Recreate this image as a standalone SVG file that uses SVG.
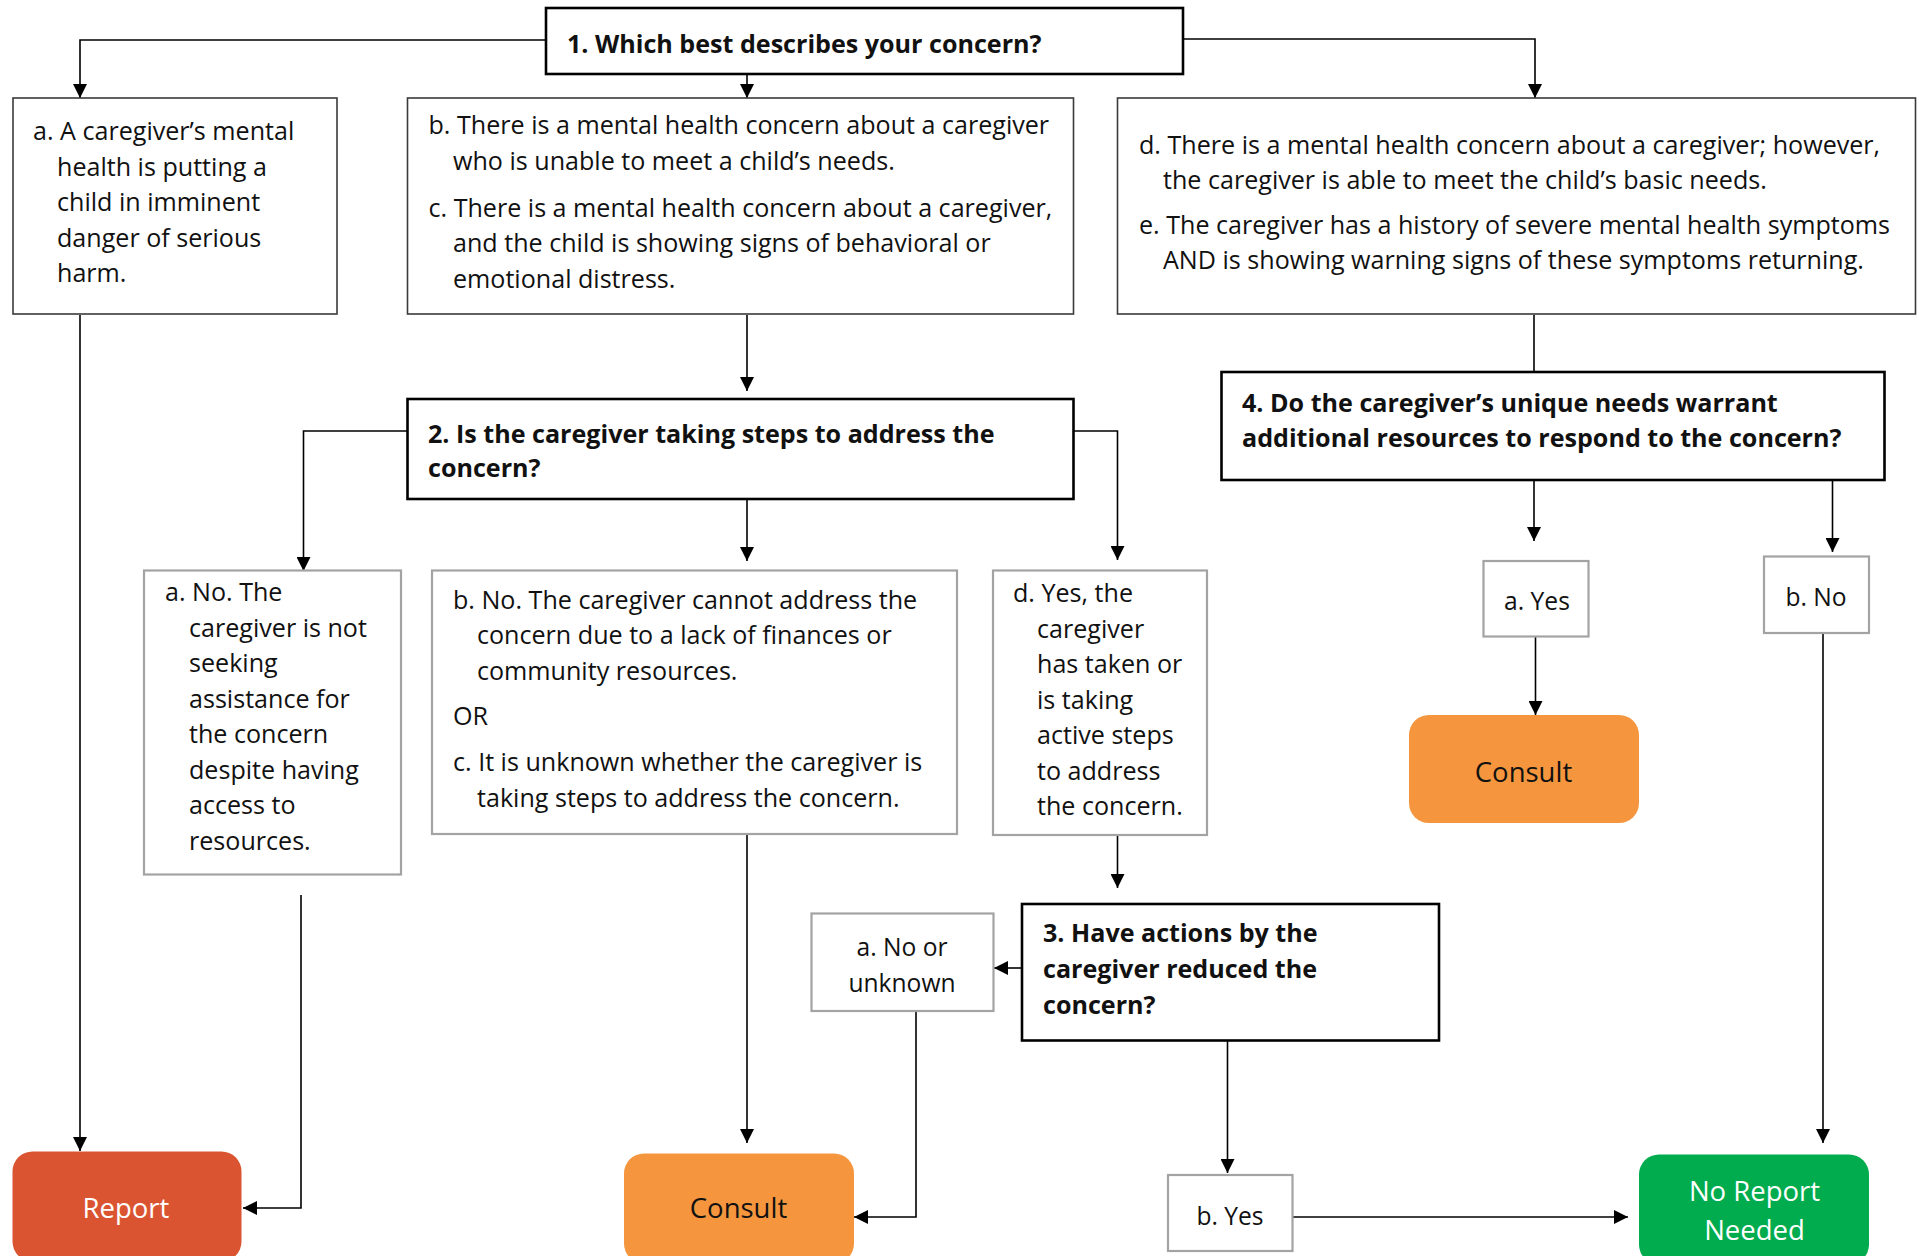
<svg xmlns="http://www.w3.org/2000/svg" width="1919" height="1256" viewBox="0 0 1919 1256">
  <defs>
    <marker id="arrow" markerUnits="userSpaceOnUse" markerWidth="14" markerHeight="14" viewBox="0 0 14 14" refX="14" refY="7" orient="auto">
      <path d="M0,0 L14,7 L0,14 Z" fill="#000"/>
    </marker>
    <style>
      text { font-family: "Open Sans", "Liberation Sans", sans-serif; fill: #111; }
      .t { font-size: 25.1px; }
      .b { font-size: 25.1px; font-weight: 700; }
      .s { font-size: 24.6px; }
      .c { text-anchor: middle; }
      .lbl { font-size: 27.5px; text-anchor: middle; }
      .white { fill: #fff; }
      .opt { fill: #fff; stroke: #3a3a3a; stroke-width: 1.6; }
      .q { fill: #fff; stroke: #000; stroke-width: 2.6; }
      .ans { fill: #fff; stroke: #a3a3a3; stroke-width: 2.2; }
      .end-report { fill: #DB5431; }
      .end-consult { fill: #F5963E; }
      .end-none { fill: #00AC4E; }
      .edge { fill: none; stroke: #000; stroke-width: 1.6; }
      .arr { marker-end: url(#arrow); }
    </style>
  </defs>

  <!-- connectors -->
  <g id="connectors">
    <path class="edge arr" d="M546,40 H80 V98"/>
    <path class="edge arr" d="M747,75 V98"/>
    <path class="edge arr" d="M1182,39 H1535 V98"/>
    <path class="edge arr" d="M80,315 V1151"/>
    <path class="edge arr" d="M747,315 V391"/>
    <path class="edge" d="M1534,315 V372"/>
    <path class="edge arr" d="M407,431 H303.5 V571"/>
    <path class="edge arr" d="M747,500 V561"/>
    <path class="edge arr" d="M1073,431 H1117.5 V560"/>
    <path class="edge arr" d="M301,895 V1208 H243"/>
    <path class="edge arr" d="M747,834 V1143"/>
    <path class="edge arr" d="M1117.5,835 V888"/>
    <path class="edge arr" d="M1022,968 H994"/>
    <path class="edge arr" d="M916,1011 V1217 H854"/>
    <path class="edge arr" d="M1227.5,1041 V1173"/>
    <path class="edge arr" d="M1292.5,1217 H1628"/>
    <path class="edge arr" d="M1534,480 V541"/>
    <path class="edge arr" d="M1832.5,480 V552"/>
    <path class="edge arr" d="M1535.5,637 V715"/>
    <path class="edge arr" d="M1823,633 V1143"/>
  </g>

  <!-- question 1 -->
  <g id="q1">
    <rect class="q" x="546" y="8" width="637" height="66"/>
    <text class="b" x="567" y="53">1. Which best describes your concern?</text>
  </g>

  <!-- first-level options -->
  <g id="opt-a">
    <rect class="opt" x="13" y="98" width="324" height="216"/>
    <text class="t" x="33" y="140">a. A caregiver’s mental</text>
    <text class="t" x="57" y="175.5">health is putting a</text>
    <text class="t" x="57" y="211">child in imminent</text>
    <text class="t" x="57" y="246.5">danger of serious</text>
    <text class="t" x="57" y="282">harm.</text>
  </g>

  <g id="opt-bc">
    <rect class="opt" x="407.5" y="98" width="666" height="216"/>
    <text class="t" x="428.5" y="134">b. There is a mental health concern about a caregiver</text>
    <text class="t" x="453" y="170">who is unable to meet a child’s needs.</text>
    <text class="t" x="428.5" y="216.5">c. There is a mental health concern about a caregiver,</text>
    <text class="t" x="453" y="252">and the child is showing signs of behavioral or</text>
    <text class="t" x="453" y="288">emotional distress.</text>
  </g>

  <g id="opt-de">
    <rect class="opt" x="1117.5" y="98" width="798" height="216"/>
    <text class="t" x="1139" y="154">d. There is a mental health concern about a caregiver; however,</text>
    <text class="t" x="1163" y="189">the caregiver is able to meet the child’s basic needs.</text>
    <text class="t" x="1139" y="234">e. The caregiver has a history of severe mental health symptoms</text>
    <text class="t" x="1163" y="269">AND is showing warning signs of these symptoms returning.</text>
  </g>

  <!-- question 2 -->
  <g id="q2">
    <rect class="q" x="407.5" y="399" width="666" height="100"/>
    <text class="b" x="428" y="443">2. Is the caregiver taking steps to address the</text>
    <text class="b" x="428" y="477">concern?</text>
  </g>

  <g id="ans2-a">
    <rect class="ans" x="144" y="570.5" width="257" height="304"/>
    <text class="t" x="165" y="601">a. No. The</text>
    <text class="t" x="189" y="636.5">caregiver is not</text>
    <text class="t" x="189" y="672">seeking</text>
    <text class="t" x="189" y="707.5">assistance for</text>
    <text class="t" x="189" y="743">the concern</text>
    <text class="t" x="189" y="778.5">despite having</text>
    <text class="t" x="189" y="814">access to</text>
    <text class="t" x="189" y="849.5">resources.</text>
  </g>

  <g id="ans2-bc">
    <rect class="ans" x="432" y="570.5" width="525" height="263.5"/>
    <text class="t" x="453" y="609">b. No. The caregiver cannot address the</text>
    <text class="t" x="477" y="644">concern due to a lack of finances or</text>
    <text class="t" x="477" y="679.5">community resources.</text>
    <text class="t" x="453" y="724.5">OR</text>
    <text class="t" x="453" y="771">c. It is unknown whether the caregiver is</text>
    <text class="t" x="477" y="806.5">taking steps to address the concern.</text>
  </g>

  <g id="ans2-d">
    <rect class="ans" x="993" y="570.5" width="214" height="264.5"/>
    <text class="t" x="1013" y="602">d. Yes, the</text>
    <text class="t" x="1037" y="637.5">caregiver</text>
    <text class="t" x="1037" y="673">has taken or</text>
    <text class="t" x="1037" y="708.5">is taking</text>
    <text class="t" x="1037" y="744">active steps</text>
    <text class="t" x="1037" y="779.5">to address</text>
    <text class="t" x="1037" y="815">the concern.</text>
  </g>

  <!-- question 3 -->
  <g id="q3">
    <rect class="q" x="1022" y="904" width="417" height="136.5"/>
    <text class="b" x="1043" y="942">3. Have actions by the</text>
    <text class="b" x="1043" y="978">caregiver reduced the</text>
    <text class="b" x="1043" y="1013.5">concern?</text>
  </g>

  <g id="ans3-a">
    <rect class="ans" x="811.5" y="913.5" width="182" height="97.5"/>
    <text class="s c" x="902" y="956">a. No or</text>
    <text class="s c" x="902" y="992">unknown</text>
  </g>

  <g id="ans3-b">
    <rect class="ans" x="1168" y="1175" width="124.5" height="76"/>
    <text class="s c" x="1230" y="1225">b. Yes</text>
  </g>

  <!-- question 4 -->
  <g id="q4">
    <rect class="q" x="1221.5" y="372" width="663" height="108"/>
    <text class="b" x="1242" y="412">4. Do the caregiver’s unique needs warrant</text>
    <text class="b" x="1242" y="447">additional resources to respond to the concern?</text>
  </g>

  <g id="ans4-a">
    <rect class="ans" x="1483.5" y="561" width="105" height="75.5"/>
    <text class="s c" x="1537" y="610">a. Yes</text>
  </g>

  <g id="ans4-b">
    <rect class="ans" x="1764" y="556.5" width="105" height="76.5"/>
    <text class="s c" x="1816" y="606">b. No</text>
  </g>

  <!-- outcomes -->
  <g id="out-report">
    <rect class="end-report" x="12.5" y="1151.5" width="229" height="110" rx="20"/>
    <text class="lbl white" x="126" y="1218">Report</text>
  </g>

  <g id="out-consult-1">
    <rect class="end-consult" x="1409" y="715" width="230" height="108" rx="20"/>
    <text class="lbl" x="1523.5" y="782">Consult</text>
  </g>

  <g id="out-consult-2">
    <rect class="end-consult" x="624" y="1153.5" width="230" height="110" rx="20"/>
    <text class="lbl" x="738.5" y="1218">Consult</text>
  </g>

  <g id="out-no-report">
    <rect class="end-none" x="1639" y="1154.5" width="230" height="110" rx="20"/>
    <text class="lbl white" x="1754.5" y="1201">No Report</text>
    <text class="lbl white" x="1754.5" y="1240">Needed</text>
  </g>
</svg>
